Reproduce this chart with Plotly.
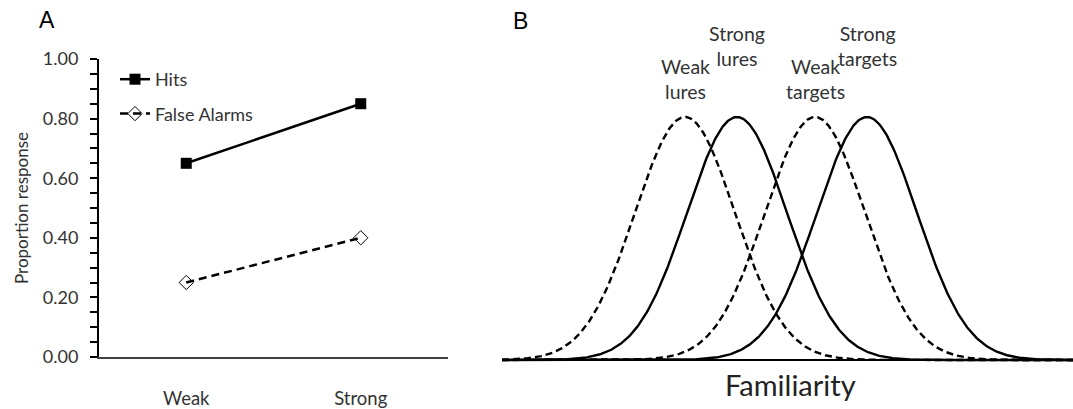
import numpy as np
import plotly.graph_objects as go

# ---------------- data ----------------
conditions = ["Weak", "Strong"]
hits = [0.65, 0.85]
false_alarms = [0.25, 0.40]
y_ticks = [0.0, 0.2, 0.4, 0.6, 0.8, 1.0]

dist_names = ["Weak<br>lures", "Strong<br>lures", "Weak<br>targets", "Strong<br>targets"]
dist_means = [0.0, 1.04, 2.6, 3.64]
dist_sds = [1.0, 1.0, 1.0, 1.0]
dist_dashed = [True, False, True, False]
fam_range = [-3.66, 7.76]

# ---------------- layout helpers ----------------
W, H = 1073, 409
def px(x):
    return x / W
def py(y):
    return 1 - y / H

FONT = "Lato"
GRAY = "#333333"

fig = go.Figure()

# Panel A
fig.add_trace(go.Scatter(
    x=conditions, y=hits, name="Hits", mode="lines+markers",
    line=dict(color="black", width=2.5),
    marker=dict(symbol="square", size=11, color="black"),
    xaxis="x", yaxis="y", legendgroup="a"))
fig.add_trace(go.Scatter(
    x=conditions, y=false_alarms, name="False Alarms", mode="lines+markers",
    line=dict(color="black", width=2.5, dash="8px,5px"),
    marker=dict(symbol="diamond-open", size=11, color="black", line=dict(width=1)),
    xaxis="x", yaxis="y", legendgroup="b"))

# Panel B
xs = np.linspace(fam_range[0], fam_range[1], 600)
for name, m, s, d in zip(dist_names, dist_means, dist_sds, dist_dashed):
    ys = np.exp(-0.5 * ((xs - m) / s) ** 2) / (s * np.sqrt(2 * np.pi))
    fig.add_trace(go.Scatter(
        x=xs, y=ys, mode="lines", showlegend=False,
        line=dict(color="black", width=2.4, dash="7px,4px" if d else "solid"),
        xaxis="x2", yaxis="y2", hoverinfo="skip"))

peak = 1 / np.sqrt(2 * np.pi)
# pixel geometry panel B
b_base, b_peak = 360, 117
ppu = (b_base - b_peak) / peak
y2_lo, y2_hi = -0.03, 0.43
y2_bot = b_base - y2_lo * ppu
y2_top = b_base - y2_hi * ppu

fig.update_layout(
    width=W, height=H,
    margin=dict(l=0, r=0, t=0, b=0, autoexpand=False),
    paper_bgcolor="white", plot_bgcolor="white",
    font=dict(family=FONT, color=GRAY, size=18),
    showlegend=True,
    legend=dict(x=px(115), y=py(61), xanchor="left", yanchor="top",
                bgcolor="rgba(0,0,0,0)", font=dict(size=18, color=GRAY),
                tracegroupgap=8, itemwidth=30),
    xaxis=dict(domain=[px(99), px(448)], range=[-0.5, 1.5], type="category",
               showline=True, linecolor="#404040", linewidth=2,
               showgrid=False, zeroline=False, ticks="",
               ticklabelstandoff=24, tickfont=dict(size=18.5, color=GRAY),
               automargin=False, anchor="y"),
    yaxis=dict(domain=[py(357), py(59)], range=[0, 1],
               tickvals=y_ticks, tickformat=".2f",
               showline=True, linecolor="black", linewidth=2,
               ticks="outside", ticklen=7, tickwidth=1.5, tickcolor="black",
               minor=dict(dtick=0.05, ticks="outside", ticklen=7, tickwidth=1.5, tickcolor="black"),
               showgrid=False, zeroline=False,
               ticklabelstandoff=8,
               tickfont=dict(size=18, color=GRAY),
               title=dict(text="Proportion response", font=dict(size=17, color=GRAY), standoff=10),
               automargin=False, anchor="x"),
    xaxis2=dict(domain=[px(502), 1.0], range=fam_range,
                showline=False, showgrid=False, zeroline=False,
                showticklabels=False, ticks="", automargin=False, anchor="y2"),
    yaxis2=dict(domain=[py(y2_bot), py(y2_top)], range=[y2_lo, y2_hi],
                showline=False, showgrid=False, showticklabels=False, ticks="",
                zeroline=True, zerolinecolor="black", zerolinewidth=2,
                automargin=False, anchor="x2"),
)

annotations = [
    dict(text="A", x=px(47), y=py(20), xref="paper", yref="paper",
         xanchor="center", yanchor="middle",
         showarrow=False, font=dict(family="Liberation Sans", size=23, color="black")),
    dict(text="B", x=px(520), y=py(21), xref="paper", yref="paper",
         xanchor="center", yanchor="middle",
         showarrow=False, font=dict(family="Liberation Sans", size=23, color="black")),
    dict(text="Familiarity", x=px(790), y=py(384), xref="paper", yref="paper",
         xanchor="center", yanchor="middle",
         showarrow=False, font=dict(size=29, color="#222222")),
]
label_y = [79.5, 45.5, 79.5, 45.5]
for name, m, ly in zip(dist_names, dist_means, label_y):
    annotations.append(dict(text=name, x=m, xref="x2", y=py(ly), yref="paper",
                            xanchor="center", yanchor="middle",
                            showarrow=False, font=dict(size=19.5, color=GRAY)))
fig.update_layout(annotations=annotations)

fig.write_html("out.html")
